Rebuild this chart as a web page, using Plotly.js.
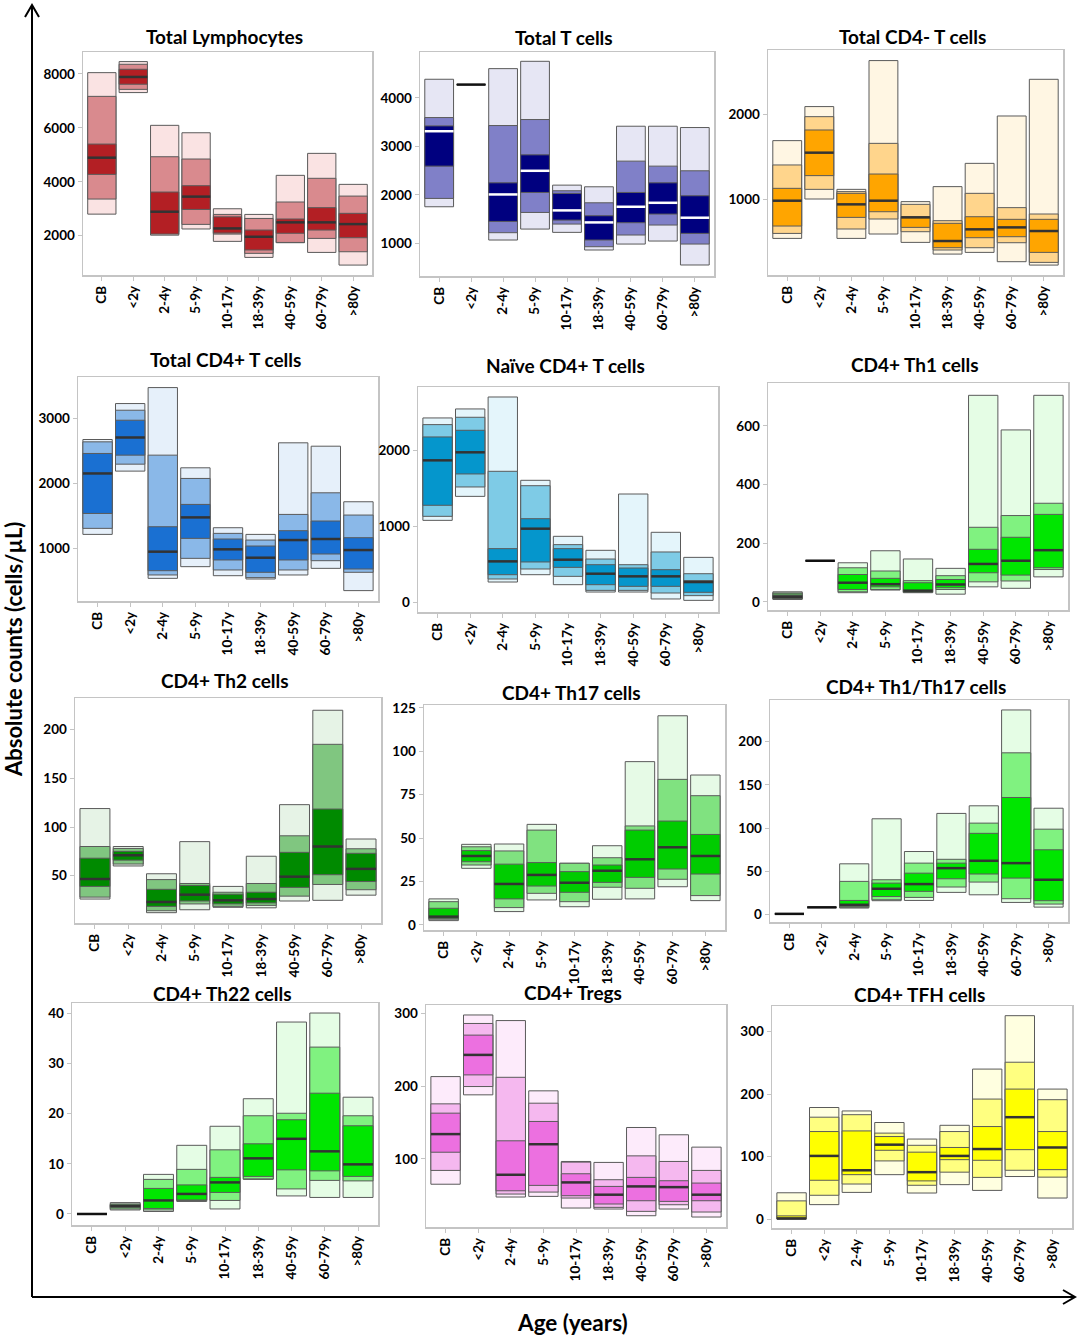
<!DOCTYPE html>
<html>
<head>
<meta charset="utf-8">
<script src="https://cdn.plot.ly/plotly-3.0.1.min.js"></script>
<style>html,body{margin:0;padding:0;background:#fff;}#chart{width:1080px;height:1336px;}</style>
</head>
<body>
<div id="chart"></div>
<script>
// Age groups (x categories)
const categories = ['CB','<2y','2-4y','5-9y','10-17y','18-39y','40-59y','60-79y','>80y'];

// Each row: [outer low, middle low, inner low, median, inner high, middle high, outer high]
const totalLymphocytes = [
  [2800,3360,4275,4895,5400,7170,8050],
  [7310,7430,7620,7890,8175,8360,8460],
  [2020,2150,2060,2890,3620,4930,6095],
  [2250,2420,2975,3450,3855,4845,5820],
  [1790,2060,2100,2270,2700,2790,3000],
  [1195,1345,1470,1960,2210,2640,2790],
  [1740,1750,2090,2495,2620,3250,4240],
  [1380,1900,2210,2495,3040,4130,5055],
  [910,1405,1925,2430,2830,3470,3905]
];
const totalTcells = [
  [1755,1927,2593,3313,3423,3595,4385],
  [4275,4275,4275,4275,4275,4275,4275],
  [1069,1220,1453,2009,2249,3430,4604],
  [1295,1638,2050,2497,2826,3554,4755],
  [1227,1398,1480,1680,2030,2085,2201],
  [863,931,1069,1432,1570,1837,2167],
  [986,1172,1426,1755,2050,2696,3416],
  [1048,1378,1604,1837,2249,2593,3416],
  [554,986,1206,1529,1982,2497,3389]
];
const totalCD4negT = [
  [535,594,681,980,1126,1402,1689],
  [1000,1114,1276,1547,1815,1972,2091],
  [535,646,783,937,1067,1087,1114],
  [587,764,850,980,1295,1657,2634],
  [488,614,665,783,791,937,969],
  [350,398,425,504,713,744,1146],
  [370,425,543,642,791,1067,1421],
  [260,484,555,665,760,898,1980],
  [220,252,370,622,760,823,2413]
];
const totalCD4posT = [
  [1215,1308,1538,2154,2462,2641,2677],
  [2190,2297,2436,2708,2974,3128,3231],
  [538,590,656,949,1333,2436,3477],
  [718,846,1154,1477,1677,2077,2241],
  [579,667,821,985,1144,1231,1318],
  [528,549,631,856,1036,1128,1215],
  [590,667,821,1128,1272,1523,2626],
  [692,810,913,1144,1421,1856,2574],
  [349,631,682,974,1164,1513,1718]
];
const naiveCD4T = [
  [1079,1132,1278,1872,2181,2344,2432],
  [1396,1520,1692,1978,2269,2441,2551],
  [264,304,361,537,705,1727,2709],
  [361,436,529,969,1101,1537,1608],
  [229,339,458,559,705,758,868],
  [132,154,229,374,493,568,683],
  [132,154,207,339,449,493,1427],
  [40,119,207,339,427,661,921],
  [22,84,128,264,282,374,590]
];
const th1Cells = [
  [8,10,12,17,22,30,34],
  [140,140,140,140,140,140,140],
  [31,34,42,65,93,116,133],
  [40,42,51,60,80,105,174],
  [31,32,34,38,65,72,146],
  [26,42,48,59,76,89,114],
  [51,68,99,129,179,254,704],
  [46,71,91,140,220,294,586],
  [85,110,116,176,298,336,704]
];
const th2Cells = [
  [26,28,39,46.6,68,80,119],
  [60,62,66,71,75,78,80],
  [12,14,18.5,23,36,46,52],
  [15,21,24,30.5,40,42,85],
  [17.5,18.5,21,24.7,31,33,39],
  [17,19.5,22,26,33,42,70],
  [24,29,38,49,74,91,123],
  [24.7,41,51,80,118.5,185,220],
  [30,35.6,44,57,73,77.7,87.7]
];
const th17Cells = [
  [2.5,3.3,3.8,4.8,9.6,13.4,15],
  [32.6,34.5,36.4,39.7,42.8,45,46.4],
  [7.7,10,15,23.6,35,42.6,46.6],
  [14.4,18.2,22.4,28.8,35.9,54.6,57.9],
  [10.5,13.4,18.8,24.3,30.7,35.5,35.5],
  [14.8,21.7,24.5,31.2,34.5,38.7,45.6],
  [15,21.1,27.4,37.8,54.6,57,94],
  [22,26.3,32.2,44.7,59.8,83.8,120.4],
  [14,16.9,29.3,39.7,52.1,74.4,86.3]
];
const th1th17Cells = [
  [1,1,1,1,1,1,1],
  [8.5,8.5,8.5,8.5,8.5,8.5,8.5],
  [7.7,8.5,9.6,11.5,16.5,38.5,58.8],
  [16.2,17.3,21,30,36.5,40.4,110.8],
  [16.5,20,27,35.4,48,59.6,73],
  [25.8,32,41.5,53.8,59.6,64,117],
  [23,37.7,47,62.3,94,105.8,125.8],
  [14.2,18.5,42.3,59.6,135.4,187,236.5],
  [8.8,12.3,16.2,40.4,75,98.8,123]
];
const th22Cells = [
  [0,0,0,0,0,0,0],
  [0.8,1.0,1.27,1.6,1.8,2.0,2.27],
  [0.5,0.8,1.1,2.7,5.1,6.9,7.9],
  [2.5,2.7,2.8,4,5.8,8.9,13.7],
  [1,2.7,4.3,6.3,7.3,12.8,17.5],
  [6.9,7,7.5,11.1,14,19.6,23],
  [3.6,5,8.8,15,18.8,20.1,38.3],
  [3.3,6.7,8.6,12.5,24.1,33.3,40.1],
  [3.3,6.6,7.5,9.9,17.6,19.6,23.3]
];
const tregCells = [
  [65,84,109,133.9,162.7,175.5,213],
  [187.9,199.3,215.3,242.8,270,286,297.7],
  [47.4,51.5,56,78,124.7,212,290],
  [48.3,54.2,63.4,120,151.3,176.4,193.4],
  [32.3,46,49.2,67.5,79.4,95.4,96.3],
  [30.9,33.2,37.8,50.6,62,71.2,95],
  [21.7,27.7,42.3,62,74.4,104,143],
  [30.9,36.8,41.4,61,69.8,96.3,133],
  [19.9,26.8,42.3,50.6,66.6,84,116]
];
const tfhCells = [
  [0,0,0,1,5,29,42],
  [23,38,62,101,140,163,178.5],
  [42.6,56,71,78,141,167,173],
  [71,93,110,119,132,137.5,154.5],
  [41.6,54,61,75,107,118,128],
  [55,75,95,101,114.5,140,150],
  [45.8,66.6,94,112,148,192,240],
  [68,78,111,163,208,251,325.5],
  [33.6,67,79,114.5,140,191,208]
];

const panelTitles = ['Total Lymphocytes','Total T cells','Total CD4- T cells','Total CD4+ T cells','Naïve CD4+ T cells','CD4+ Th1 cells','CD4+ Th2 cells','CD4+ Th17 cells','CD4+ Th1/Th17 cells','CD4+ Th22 cells','CD4+ Tregs','CD4+ TFH cells'];
const panelData = [totalLymphocytes,totalTcells,totalCD4negT,totalCD4posT,naiveCD4T,th1Cells,th2Cells,th17Cells,th1th17Cells,th22Cells,tregCells,tfhCells];

// ---- styling / layout (pixels) ----
const W = 1080, H = 1336;
const FONT = 'Lato, "Open Sans", sans-serif';
const panels = [
  {box:[83,372,52,275],   yr:[542,8816],  ticks:[2000,4000,6000,8000], ty:36,  col:['#fae3e3','#d98a8e','#b31f24'], med:'#333'},
  {box:[420,714,52,276],  yr:[327,4947],  ticks:[1000,2000,3000,4000], ty:37,  col:['#e6e6f4','#8080c8','#00007f'], med:'#ffffff'},
  {box:[768,1063,50,275], yr:[103,2759],  ticks:[1000,2000],           ty:36,  col:['#fff6e3','#ffd58c','#ffa500'], med:'#333'},
  {box:[78,378,377,601],  yr:[189,3640],  ticks:[1000,2000,3000],      ty:359, col:['#e6f0fa','#8ab8e8','#1a70d2'], med:'#333'},
  {box:[418,718,387,612], yr:[-132,2841], ticks:[0,1000,2000],         ty:366, col:['#e4f5fb','#7ecbe6','#0596cc'], med:'#333'},
  {box:[768,1068,383,610],yr:[-28,746],   ticks:[0,200,400,600],       ty:364, col:['#e5fde5','#80f280','#00e600'], med:'#333'},
  {box:[75,381,698,923],  yr:[1.4,232.6], ticks:[50,100,150,200],      ty:680, col:['#e6f3e6','#80c680','#008a00'], med:'#333'},
  {box:[424,725,705,930], yr:[-2.9,126.6],ticks:[0,25,50,75,100,125],  ty:692, col:['#e6fae6','#80e280','#00cc00'], med:'#333'},
  {box:[770,1068,700,922],yr:[-8.4,248],  ticks:[0,50,100,150,200],    ty:686, col:['#e5fde5','#80f280','#00e600'], med:'#333'},
  {box:[72,378,1003,1225],yr:[-2.2,42.1], ticks:[0,10,20,30,40],       ty:993, col:['#e5fde5','#80f280','#00e600'], med:'#333'},
  {box:[426,726,1005,1227],yr:[6.2,311.4],ticks:[100,200,300],         ty:992, col:['#fdebfb','#f5b8ef','#ec70e0'], med:'#333'},
  {box:[772,1072,1006,1228],yr:[-14.4,341],ticks:[0,100,200,300],      ty:995, col:['#ffffe0','#ffff80','#ffff00'], med:'#333'}
];
const BARW = 0.9, XR = [-0.6, 8.6];

const px = x => x / W;
const py = y => 1 - y / H;

const traces = [];
const layout = {
  width: W, height: H,
  margin: {l:0, r:0, t:0, b:0},
  paper_bgcolor: '#fff', plot_bgcolor: '#fff',
  barmode: 'overlay', showlegend: false,
  font: {family: FONT, color: '#000'},
  annotations: [], shapes: []
};

panels.forEach((p, i) => {
  const n = i + 1;
  const xa = 'x' + (n === 1 ? '' : n), ya = 'y' + (n === 1 ? '' : n);
  const data = panelData[i];
  const col = p.col.slice();
  const layers = [[0,6,0],[1,5,1],[2,4,2]];
  layers.forEach(([lo, hi, c]) => {
    const colors = data.map((r, k) => {
      if (i === 5 && k === 0) return ['#cfe6cf','#5a9a5a','#1f6b1f'][c];
      return col[c];
    });
    traces.push({
      type: 'bar', xaxis: xa, yaxis: ya,
      x: categories, base: data.map(r => r[lo]), y: data.map(r => r[hi] - r[lo]),
      width: BARW,
      marker: {color: colors, line: {color: '#5a5a5a', width: 1}},
      hoverinfo: 'skip'
    });
  });
  const plotW = p.box[1] - p.box[0];
  const barPx = BARW * plotW / (XR[1] - XR[0]);
  traces.push({
    type: 'scatter', mode: 'markers', xaxis: xa, yaxis: ya,
    x: categories, y: data.map(r => r[3]),
    marker: {symbol: 'line-ew', size: barPx / 1.4,
      line: {width: 2.5, color: data.map(r => (r[6] === r[0]) ? '#111' : p.med)}},
    hoverinfo: 'skip', cliponaxis: false
  });
  const axCommon = {
    showline: true, mirror: true, linecolor: '#c4c4c4', linewidth: 1.5,
    ticks: 'outside', ticklen: 4, tickcolor: '#c4c4c4',
    showgrid: false, zeroline: false, fixedrange: true,
    tickfont: {family: FONT, size: 13.5, color: '#000', weight: 'bold'}
  };
  layout['xaxis' + (n === 1 ? '' : n)] = Object.assign({}, axCommon, {
    domain: [px(p.box[0]), px(p.box[1])], anchor: ya,
    type: 'category', range: XR, tickangle: -90
  });
  layout['yaxis' + (n === 1 ? '' : n)] = Object.assign({}, axCommon, {
    domain: [py(p.box[3]), py(p.box[2])], anchor: xa,
    range: p.yr, tickvals: p.ticks, ticktext: p.ticks.map(String)
  });
  layout.annotations.push({
    xref: 'paper', yref: 'paper', x: px((p.box[0] + p.box[1]) / 2 - 3), y: py(p.ty),
    text: '<b>' + panelTitles[i] + '</b>', showarrow: false,
    font: {family: FONT, size: 19, color: '#000'}, xanchor: 'center', yanchor: 'middle'
  });
});

// Big axis arrows
layout.shapes.push(
  {type:'line', xref:'paper', yref:'paper', x0:px(32), y0:py(1297), x1:px(32), y1:py(5), line:{color:'#000', width:2}},
  {type:'line', xref:'paper', yref:'paper', x0:px(32), y0:py(1297), x1:px(1075), y1:py(1297), line:{color:'#000', width:2}},
  {type:'path', xref:'paper', yref:'paper',
    path:`M ${px(25)} ${py(17)} L ${px(32)} ${py(5)} L ${px(39)} ${py(17)}`, line:{color:'#000', width:2}},
  {type:'path', xref:'paper', yref:'paper',
    path:`M ${px(1063)} ${py(1290)} L ${px(1075)} ${py(1297)} L ${px(1063)} ${py(1304)}`, line:{color:'#000', width:2}}
);
layout.annotations.push(
  {xref:'paper', yref:'paper', x:px(14), y:py(650), text:'<b>Absolute counts (cells/µL)</b>', textangle:-90,
    showarrow:false, font:{family:FONT, size:22, color:'#000'}, xanchor:'center', yanchor:'middle'},
  {xref:'paper', yref:'paper', x:px(572), y:py(1322), text:'<b>Age (years)</b>',
    showarrow:false, font:{family:FONT, size:22.5, color:'#000'}, xanchor:'center', yanchor:'middle'}
);

Plotly.newPlot('chart', traces, layout, {staticPlot: true, displayModeBar: false});
</script>
</body>
</html>
